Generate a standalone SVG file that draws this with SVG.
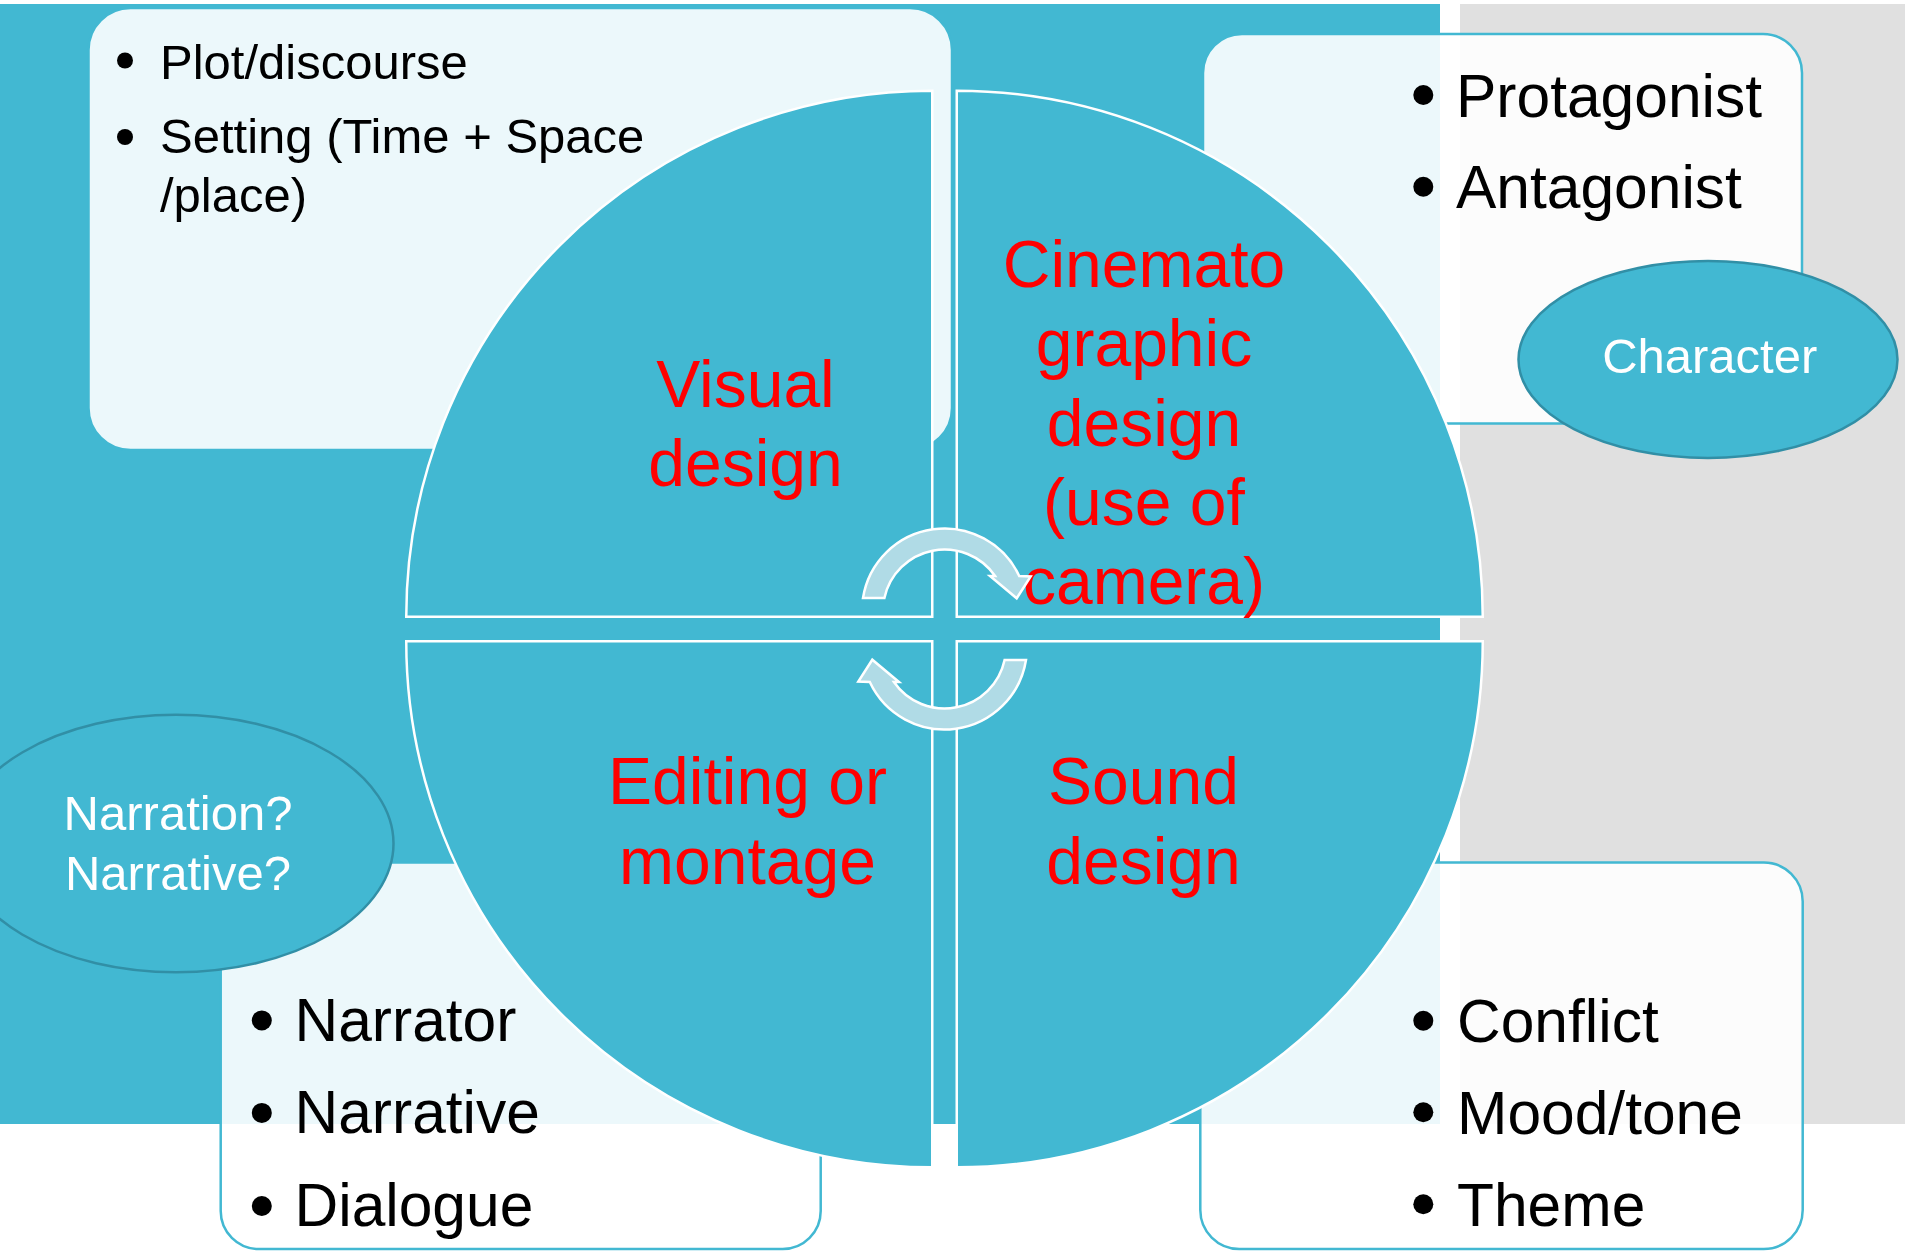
<svg xmlns="http://www.w3.org/2000/svg" width="1905" height="1251" viewBox="0 0 1905 1251">
  <defs>
    <style>
      .page{fill:#ffffff}
      .bg-teal{fill:#42b8d2}
      .bg-gray{fill:#e0e0e0}
      .panel{fill:#ffffff;fill-opacity:0.9;stroke:#42b8d2;stroke-width:2.5}
      .quad{fill:#42b8d2;stroke:#ffffff;stroke-width:2.5}
      .oval{fill:#42b8d2;stroke:#318fa6;stroke-width:2.5}
      .cycle{fill:#b0dbe6;stroke:#ffffff;stroke-width:2.5;stroke-linejoin:miter}
      text{font-family:"Liberation Sans",Arial,sans-serif}
      .list{font-size:60.5px;fill:#000000}
      .list-sm{font-size:49px;fill:#000000}
      .label{font-size:66px;fill:#ff0000;text-anchor:middle}
      .oval-label{font-size:49px;fill:#ffffff;text-anchor:middle}
      .dot{fill:#000000}
    </style>
  </defs>

  <!-- backdrop bands -->
  <rect class="page" x="0" y="0" width="1905" height="1251"/>
  <rect class="bg-teal" x="0" y="4" width="1440" height="1120"/>
  <rect class="bg-gray" x="1460" y="4" width="445" height="1120"/>

  <!-- story panel (top left) -->
  <g id="panel-story">
    <rect class="panel" x="88.5" y="8" width="863.5" height="442" rx="42" ry="42"/>
    <circle class="dot" cx="125" cy="60.5" r="8"/>
    <text class="list-sm" x="160" y="78.5">Plot/discourse</text>
    <circle class="dot" cx="125" cy="137" r="8"/>
    <text class="list-sm" x="160" y="153">Setting (Time + Space</text>
    <text class="list-sm" x="160" y="212.4">/place)</text>
  </g>

  <!-- character panel (top right) -->
  <g id="panel-character">
    <rect class="panel" x="1203" y="34" width="599" height="389.5" rx="39" ry="39"/>
    <circle class="dot" cx="1423.3" cy="95" r="10"/>
    <text class="list" x="1456" y="116.7">Protagonist</text>
    <circle class="dot" cx="1423.3" cy="186.7" r="10"/>
    <text class="list" x="1456" y="208.3">Antagonist</text>
  </g>

  <!-- narration panel (bottom left) -->
  <g id="panel-narration">
    <rect class="panel" x="220.7" y="862.5" width="600" height="386.5" rx="38" ry="38"/>
    <circle class="dot" cx="261.8" cy="1020.4" r="10"/>
    <text class="list" x="294.5" y="1040.8">Narrator</text>
    <circle class="dot" cx="261.8" cy="1112.9" r="10"/>
    <text class="list" x="294.5" y="1132.9">Narrative</text>
    <circle class="dot" cx="261.8" cy="1206" r="10"/>
    <text class="list" x="294.5" y="1226.4">Dialogue</text>
  </g>

  <!-- theme panel (bottom right) -->
  <g id="panel-theme">
    <rect class="panel" x="1200.3" y="862.5" width="602.4" height="386.5" rx="39" ry="39"/>
    <circle class="dot" cx="1423.3" cy="1020.7" r="10"/>
    <text class="list" x="1457" y="1041.5">Conflict</text>
    <circle class="dot" cx="1423.3" cy="1112.3" r="10"/>
    <text class="list" x="1457" y="1133.5">Mood/tone</text>
    <circle class="dot" cx="1423.3" cy="1204.3" r="10"/>
    <text class="list" x="1457" y="1225.5">Theme</text>
  </g>

  <!-- ovals -->
  <g id="oval-character">
    <ellipse class="oval" cx="1708" cy="359.5" rx="189.5" ry="98.5"/>
    <text class="oval-label" x="1709.7" y="372.7">Character</text>
  </g>
  <g id="oval-narration">
    <ellipse class="oval" cx="176" cy="843.5" rx="217.5" ry="128.7"/>
    <text class="oval-label" x="178" y="830">Narration?</text>
    <text class="oval-label" x="178" y="889.7">Narrative?</text>
  </g>

  <!-- four quarter-circle segments -->
  <g id="quad-visual">
    <path class="quad" d="M 932.25 616.75 L 406.25 616.75 A 526 526 0 0 1 932.25 90.75 Z"/>
    <text class="label" x="745.5" y="406.7">Visual</text>
    <text class="label" x="745.5" y="486">design</text>
  </g>
  <g id="quad-cinematography">
    <path class="quad" d="M 956.75 616.75 L 956.75 90.75 A 526 526 0 0 1 1482.75 616.75 Z"/>
    <text class="label" x="1144" y="287">Cinemato</text>
    <text class="label" x="1144" y="366">graphic</text>
    <text class="label" x="1144" y="445.5">design</text>
    <text class="label" x="1144" y="524.5">(use of</text>
    <text class="label" x="1144" y="604">camera)</text>
  </g>
  <g id="quad-editing">
    <path class="quad" d="M 932.25 641.25 L 932.25 1167.25 A 526 526 0 0 1 406.25 641.25 Z"/>
    <text class="label" x="747.5" y="804">Editing or</text>
    <text class="label" x="747.5" y="884">montage</text>
  </g>
  <g id="quad-sound">
    <path class="quad" d="M 956.75 641.25 L 1482.75 641.25 A 526 526 0 0 1 956.75 1167.25 Z"/>
    <text class="label" x="1143.5" y="804">Sound</text>
    <text class="label" x="1143.5" y="884">design</text>
  </g>

  <!-- circular cycle arrows -->
  <g id="connectors">
    <path class="cycle" d="M 863 598 A 82.5 82.5 0 0 1 1019.2 576 L 1030.7 576.5 L 1016.7 598.3 L 990 576 L 995.1 576 A 61.5 61.5 0 0 0 884.4 598 Z"/>
    <path class="cycle" d="M 1026 660 A 82.5 82.5 0 0 1 869.8 682 L 858.3 681.5 L 872.3 659.7 L 899 682 L 893.9 682 A 61.5 61.5 0 0 0 1004.6 660 Z"/>
  </g>
</svg>
